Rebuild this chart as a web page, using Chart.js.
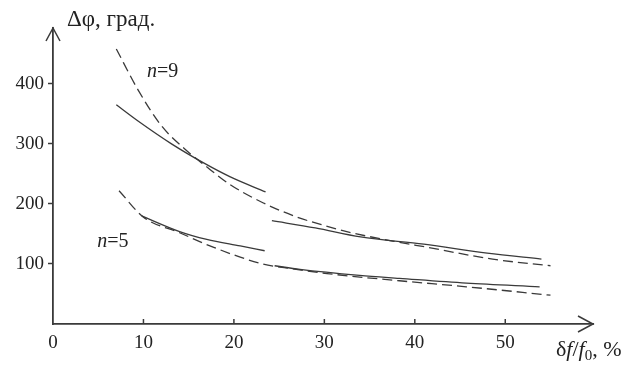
<!DOCTYPE html>
<html>
<head>
<meta charset="utf-8">
<script src="https://cdn.jsdelivr.net/npm/chart.js@4.4.1/dist/chart.umd.min.js"></script>
<style>
  html, body { margin: 0; padding: 0; background: #fff; }
  #wrap { width: 637px; height: 375px; }
</style>
</head>
<body>
<div id="wrap"><canvas id="chart"></canvas></div>
<script>
// tick labels
const xTicks = [0, 10, 20, 30, 40, 50];
const yTicks = [100, 200, 300, 400];

// n=9, dashed curve
const n9DashX = [7, 9.4, 12, 14.6, 16.8, 19.6, 23.2, 27, 30, 33, 38.3, 41.3, 48.6, 55];
const n9DashY = [458, 390, 330, 291, 264, 232, 202, 178, 164, 152, 136, 128, 108, 97];
// n=9, solid curve (two pieces)
const n9SolidAX = [7, 9.4, 13.1, 16.8, 19.6, 23.5];
const n9SolidAY = [365, 338, 300, 267, 245, 220];
const n9SolidBX = [24.2, 29, 34, 41, 48, 54];
const n9SolidBY = [172, 160, 145, 133, 118, 108];

// n=5, dashed curve
const n5DashX = [7.3, 10, 14, 17.7, 23.2, 26.5, 30.3, 38.3, 45.7, 55];
const n5DashY = [222, 178, 152, 128, 100, 92, 84, 72, 62, 48];
// n=5, solid curve (two pieces)
const n5SolidAX = [9.8, 14, 17, 20.7, 23.4];
const n5SolidAY = [180, 154, 141, 130, 122];
const n5SolidBX = [24.5, 27.3, 33.9, 38.3, 45.7, 53.8];
const n5SolidBY = [97, 91, 81, 76, 68, 62];

const ink = '#3a3a3a';
const serif = '"Liberation Serif", "DejaVu Serif", serif';

function pts(xs, ys) {
    return xs.map((x, i) => ({ x: x, y: ys[i] }));
}

function line(xs, ys, dashed) {
    return {
        data: pts(xs, ys),
        showLine: true,
        borderColor: ink,
        borderWidth: 1.3,
        borderDash: dashed ? [10, 5] : [],
        pointRadius: 0,
        cubicInterpolationMode: 'monotone',
        fill: false
    };
}

// arrows, upward x ticks and the free text labels
const decor = {
    id: 'decor',
    afterDraw(chart) {
        const ctx = chart.ctx;
        const a = chart.chartArea;
        const xs = chart.scales.x;
        const ys = chart.scales.y;
        ctx.save();
        ctx.strokeStyle = ink;
        ctx.lineWidth = 1.5;

        // x ticks point up into the plot
        xTicks.forEach(v => {
            if (v === 0) return;
            const px = xs.getPixelForValue(v);
            ctx.beginPath();
            ctx.moveTo(px, a.bottom);
            ctx.lineTo(px, a.bottom - 5);
            ctx.stroke();
        });

        // arrow heads
        ctx.beginPath();
        ctx.moveTo(a.left - 7, a.top + 13);
        ctx.lineTo(a.left, a.top);
        ctx.lineTo(a.left + 7, a.top + 13);
        ctx.stroke();
        ctx.beginPath();
        ctx.moveTo(a.right - 15, a.bottom - 8);
        ctx.lineTo(a.right, a.bottom);
        ctx.lineTo(a.right - 15, a.bottom + 8);
        ctx.stroke();

        ctx.fillStyle = '#222';
        ctx.textBaseline = 'alphabetic';
        ctx.textAlign = 'left';

        // y axis title
        ctx.font = '23px ' + serif;
        ctx.fillText('Δφ, град.', 67, 26);

        // x axis title: δf/f0, %
        let x = 556;
        const base = 356;
        const parts = [
            ['δ', '22px ' + serif, 0],
            ['f', 'italic 22px ' + serif, 0],
            ['/', '22px ' + serif, 0],
            ['f', 'italic 22px ' + serif, 0],
            ['0', '15px ' + serif, 4],
            [', %', '22px ' + serif, 0]
        ];
        parts.forEach(p => {
            ctx.font = p[1];
            ctx.fillText(p[0], x, base + p[2]);
            x += ctx.measureText(p[0]).width;
        });

        // curve labels
        function label(px, py, num) {
            ctx.font = 'italic 20px ' + serif;
            ctx.fillText('n', px, py);
            const w = ctx.measureText('n').width;
            ctx.font = '20px ' + serif;
            ctx.fillText('=' + num, px + w, py);
        }
        label(xs.getPixelForValue(10.4), ys.getPixelForValue(412), '9');
        label(xs.getPixelForValue(4.9), ys.getPixelForValue(128), '5');

        ctx.restore();
    }
};

new Chart(document.getElementById('chart'), {
    type: 'scatter',
    data: {
        datasets: [
            line(n9DashX, n9DashY, true),
            line(n9SolidAX, n9SolidAY, false),
            line(n9SolidBX, n9SolidBY, false),
            line(n5DashX, n5DashY, true),
            line(n5SolidAX, n5SolidAY, false),
            line(n5SolidBX, n5SolidBY, false)
        ]
    },
    options: {
        responsive: true,
        maintainAspectRatio: false,
        animation: false,
        layout: { padding: { top: 28, right: 44, left: 0, bottom: 0 } },
        plugins: {
            legend: { display: false },
            tooltip: { enabled: false }
        },
        scales: {
            x: {
                type: 'linear',
                min: 0,
                max: 59.7,
                afterBuildTicks: s => { s.ticks = xTicks.map(v => ({ value: v })); },
                afterFit: s => { s.height = 51; },
                border: { display: true, color: ink, width: 1.8 },
                grid: { display: true, drawOnChartArea: false, drawTicks: false },
                ticks: {
                    color: '#222',
                    font: { family: serif, size: 19 },
                    padding: 8,
                    maxRotation: 0
                }
            },
            y: {
                type: 'linear',
                min: 0,
                max: 493,
                afterBuildTicks: s => { s.ticks = yTicks.map(v => ({ value: v })); },
                afterFit: s => { s.width = 53; },
                border: { display: true, color: ink, width: 1.8 },
                grid: { display: true, drawOnChartArea: false, drawTicks: true, tickLength: 5, color: ink, tickWidth: 1.5 },
                ticks: {
                    color: '#222',
                    font: { family: serif, size: 19 },
                    padding: 4
                }
            }
        }
    },
    plugins: [decor]
});
</script>
</body>
</html>
